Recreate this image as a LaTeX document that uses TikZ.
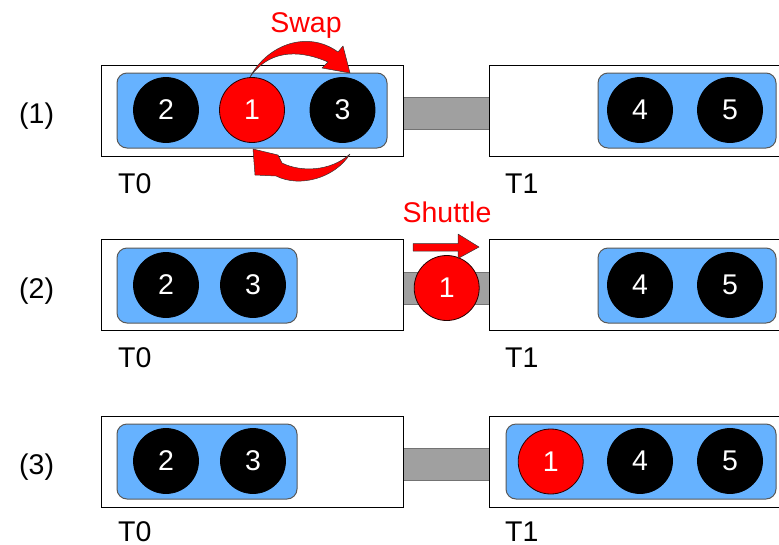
\documentclass[tikz,border=0pt]{standalone}
\usepackage{fontspec}
\setmainfont{Liberation Sans}
\definecolor{ionblue}{RGB}{102,178,255}
\definecolor{ionred}{RGB}{255,0,0}
\definecolor{barGray}{RGB}{160,160,160}
\newcommand\ionfont{\fontsize{28.5}{32}\selectfont}
\begin{document}
\begin{tikzpicture}[x=1pt,y=-1pt,
  trap/.style={draw=black, line width=1pt, fill=white, rectangle, inner sep=0, minimum height=91pt},
  chain/.style={draw=black!65, line width=1pt, fill=ionblue, rectangle, rounded corners=10pt, inner sep=0, minimum height=75pt},
  ion/.style={circle, fill=black, draw=black, line width=0.8pt, minimum size=65pt, inner sep=0, text=white, font=\ionfont},
  qion/.style={ion, fill=ionred, draw=black!85!red},
  link/.style={fill=barGray, draw=black!55, line width=0.6pt, rectangle, inner sep=0, minimum width=92pt, minimum height=32pt},
  lbl/.style={font=\ionfont, anchor=base west, inner sep=0},
  note/.style={font=\ionfont, anchor=base, inner sep=0, text=ionred},
  movearrow/.style={fill=ionred, draw=black!80, line width=0.5pt, line join=round},
]
\path[use as bounding box] (0,0) rectangle (779,544);
\clip (0,0) rectangle (779,544);

% ---------- row (1): swap inside T0 ----------
\node[link] (bar1) at (446,113) {};
\node[trap, minimum width=302pt] (t0a) at (252,110.5) {};
\node[trap, minimum width=311pt] (t1a) at (644.5,110.5) {};
\node[chain, minimum width=270pt] (c0a) at (252,110.5) {};
\node[chain, minimum width=178pt] (c1a) at (687,110.5) {};
\node[ion]  (a2) at (166,110) {2};
\node[qion] (a1) at (252,110) {1};
\node[ion]  (a3) at (342.5,110) {3};
\node[ion]  (a4) at (640,110) {4};
\node[ion]  (a5) at (730,110) {5};
\node[lbl] (r1) at (19,123) {(1)};
\node[lbl] (la0) at (118,193) {T0};
\node[lbl] (la1) at (505,193) {T1};
\node[note] (swap) at (306,32) {Swap};
% curved swap arrows
\path[movearrow] (250,77) .. controls (268,44) and (308,30) .. (338,52)
  -- (343,46) -- (350,73) -- (322,68) -- (328,62)
  .. controls (305,52) and (272,46) .. (250,77) -- cycle;
\path[movearrow] (350,154) .. controls (335,178) and (300,188) .. (276,176)
  -- (255,175) -- (253,149) -- (278,155) -- (282,163)
  .. controls (300,172) and (330,172) .. (350,154) -- cycle;

% ---------- row (2): shuttle from T0 to T1 ----------
\node[link] (bar2) at (446,288) {};
\node[trap, minimum width=302pt] (t0b) at (252,284.5) {};
\node[trap, minimum width=311pt] (t1b) at (644.5,284.5) {};
\node[chain, minimum width=180pt] (c0b) at (207,285.5) {};
\node[chain, minimum width=178pt] (c1b) at (687,285.5) {};
\node[ion]  (b2) at (166,285) {2};
\node[ion]  (b3) at (253,285) {3};
\node[qion] (b1) at (446.7,288) {1};
\node[ion]  (b4) at (640,285) {4};
\node[ion]  (b5) at (730,285) {5};
\node[lbl] (r2) at (19,298) {(2)};
\node[lbl] (lb0) at (118,367) {T0};
\node[lbl] (lb1) at (505,367) {T1};
\node[note] (shuttle) at (447,222) {Shuttle};
\path[movearrow] (413,243.5) -- (458,243.5) -- (458,234) -- (479,247)
  -- (458,258.5) -- (458,251) -- (413,251) -- cycle;

% ---------- row (3): ion 1 joined to T1 ----------
\node[link] (bar3) at (446,464) {};
\node[trap, minimum width=302pt] (t0c) at (252,461.5) {};
\node[trap, minimum width=311pt] (t1c) at (644.5,461.5) {};
\node[chain, minimum width=180pt] (c0c) at (207,461.5) {};
\node[chain, minimum width=270pt] (c1c) at (641,461.5) {};
\node[ion]  (k2) at (166,461) {2};
\node[ion]  (k3) at (253,461) {3};
\node[qion] (k1) at (550.7,461.5) {1};
\node[ion]  (k4) at (640,461) {4};
\node[ion]  (k5) at (730,461) {5};
\node[lbl] (r3) at (19,474) {(3)};
\node[lbl] (lc0) at (118,541) {T0};
\node[lbl] (lc1) at (505,541) {T1};
\end{tikzpicture}
\end{document}
